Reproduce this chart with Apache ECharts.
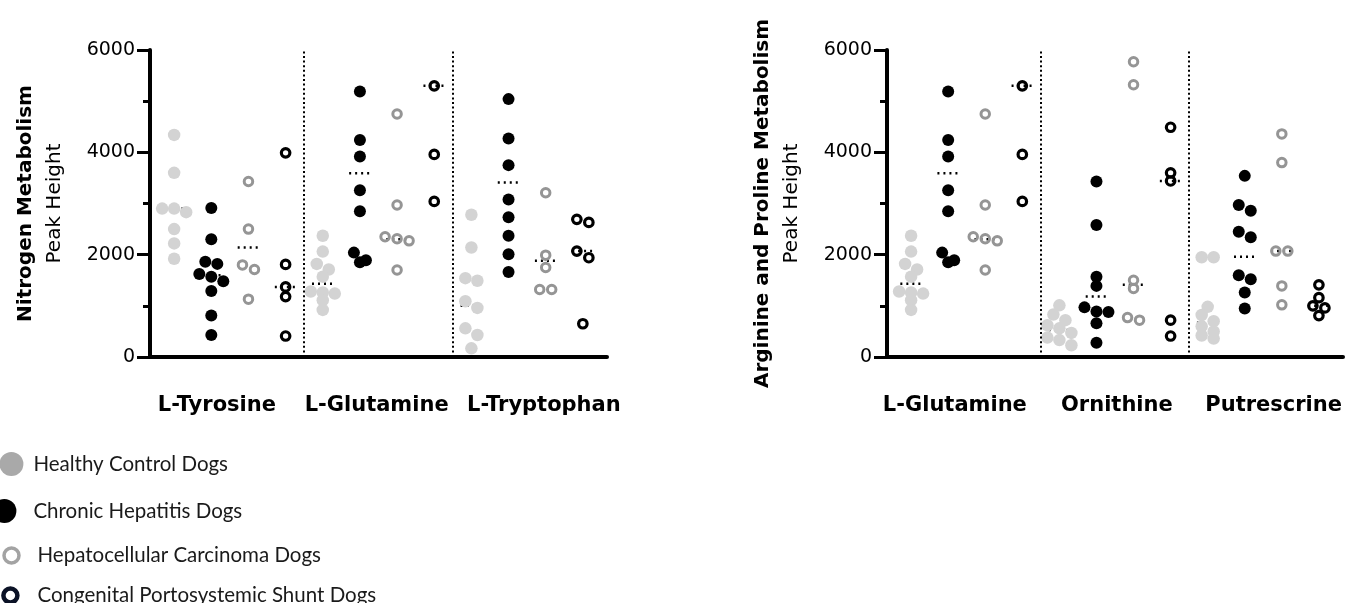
<!DOCTYPE html>
<html><head><meta charset="utf-8">
<script src="https://cdn.jsdelivr.net/npm/echarts@6/dist/echarts.min.js"></script>
<style>html,body{margin:0;padding:0;background:#fff}#c{width:1359px;height:603px}</style>
</head><body><div id="c"></div>
<script>
// ---------- data ----------
const groupNames = ['Healthy Control Dogs', 'Chronic Hepatitis Dogs', 'Hepatocellular Carcinoma Dogs', 'Congenital Portosystemic Shunt Dogs'];
const leftCategories = ['L-Tyrosine', 'L-Glutamine', 'L-Tryptophan'];
const rightCategories = ['L-Glutamine', 'Ornithine', 'Putrescrine'];
const leftTitle = 'Nitrogen Metabolism';
const rightTitle = 'Arginine and Proline Metabolism';
const yUnit = 'Peak Height';
const yTickValues = [0, 2000, 4000, 6000];

const tyrosineHealthy = [4340, 3600, 2900, 2900, 2830, 2500, 2220, 1920];
const tyrosineHepatitis = [2910, 2300, 1860, 1820, 1620, 1570, 1480, 1290, 810, 430];
const tyrosineCarcinoma = [3430, 2500, 1800, 1710, 1130];
const tyrosineShunt = [3990, 1810, 1370, 1180, 410];
const tyrosineMedians = [2900, 1600, 2140, 1370];

const glutamineHealthy = [2370, 2060, 1820, 1710, 1570, 1280, 1260, 1240, 1110, 920];
const glutamineHepatitis = [5190, 4240, 3920, 3260, 2850, 2040, 1890, 1850];
const glutamineCarcinoma = [4750, 2970, 2350, 2310, 2270, 1700];
const glutamineShunt = [5300, 3960, 3040];
const glutamineMedians = [1430, 3590, 2300, 5300];

const tryptophanHealthy = [2780, 2140, 1540, 1490, 1090, 960, 560, 430, 170];
const tryptophanHepatitis = [5040, 4270, 3750, 3080, 2730, 2370, 2010, 1660];
const tryptophanCarcinoma = [3210, 1990, 1750, 1320, 1320];
const tryptophanShunt = [2690, 2630, 2070, 1940, 650];
const tryptophanMedians = [1000, 3410, 1880, 2070];

const ornithineHealthy = [1010, 830, 720, 620, 560, 470, 380, 330, 230];
const ornithineHepatitis = [3430, 2580, 1570, 1390, 970, 890, 880, 660, 280];
const ornithineCarcinoma = [5770, 5320, 1500, 1340, 770, 720];
const ornithineShunt = [4490, 3600, 3440, 720, 410];
const ornithineMedians = [530, 1180, 1410, 3440];

const putrescineHealthy = [1950, 1950, 980, 820, 700, 600, 500, 420, 360];
const putrescineHepatitis = [3540, 2970, 2860, 2450, 2340, 1600, 1520, 1260, 950];
const putrescineCarcinoma = [4360, 3800, 2070, 2070, 1390, 1020];
const putrescineShunt = [1410, 1160, 1000, 960, 810];
const putrescineMedians = [670, 1960, 2070, 1000];

// ---------- layout ----------
const GRID_TOP = 50, GRID_H = 307;
const GRID_LEFT = [150, 887], GRID_W = [457, 456];
const X_MIN = -0.65, X_MAX = 11.65, Y_MAX = 6000;
const DOT = 12, ROW_TOL = 8;
const FONT = 'DejaVu Sans';

const panels = [
  { cats: leftCategories, title: leftTitle, labelAt: [1.15, 5.45, 9.95],
    values: [
      [tyrosineHealthy, tyrosineHepatitis, tyrosineCarcinoma, tyrosineShunt],
      [glutamineHealthy, glutamineHepatitis, glutamineCarcinoma, glutamineShunt],
      [tryptophanHealthy, tryptophanHepatitis, tryptophanCarcinoma, tryptophanShunt]],
    medians: [tyrosineMedians, glutamineMedians, tryptophanMedians] },
  { cats: rightCategories, title: rightTitle, labelAt: [1.18, 5.55, 9.78],
    values: [
      [glutamineHealthy, glutamineHepatitis, glutamineCarcinoma, glutamineShunt],
      [ornithineHealthy, ornithineHepatitis, ornithineCarcinoma, ornithineShunt],
      [putrescineHealthy, putrescineHepatitis, putrescineCarcinoma, putrescineShunt]],
    medians: [glutamineMedians, ornithineMedians, putrescineMedians] }
];

// simple row-based beeswarm: offsets computed in pixels, converted to axis units
function swarm(values, col, gridW) {
  const pxX = gridW / (X_MAX - X_MIN), pxY = GRID_H / Y_MAX;
  const sorted = values.slice().sort((a, b) => b - a);
  const out = []; let row = [];
  const flush = () => {
    row.forEach((v, i) => {
      const off = (i - (row.length - 1) / 2) * DOT;
      out.push([col + off / pxX, v]);
    });
    row = [];
  };
  sorted.forEach(v => {
    if (row.length && (row[0] - v) * pxY > ROW_TOL) flush();
    row.push(v);
  });
  flush();
  return out;
}

const groupStyles = [
  { symbolSize: 12.5, itemStyle: { color: '#d3d3d3', opacity: 1 } },
  { symbolSize: 12, itemStyle: { color: '#000000', opacity: 1 } },
  { symbolSize: 8.5, itemStyle: { color: 'rgba(0,0,0,0)', borderColor: '#959595', borderWidth: 3, opacity: 1 } },
  { symbolSize: 8.5, itemStyle: { color: 'rgba(0,0,0,0)', borderColor: '#000000', borderWidth: 3.2, opacity: 1 } }
];

const grids = [], xAxes = [], yAxes = [], series = [];
panels.forEach((p, c) => {
  grids.push({ left: GRID_LEFT[c], top: GRID_TOP, width: GRID_W[c], height: GRID_H });
  xAxes.push({
    type: 'value', gridIndex: c, min: X_MIN, max: X_MAX,
    axisLine: { show: true, onZero: false, lineStyle: { color: '#000', width: 4 } },
    axisTick: { show: false }, splitLine: { show: false },
    axisLabel: {
      customValues: p.labelAt, margin: 38,
      formatter: v => p.cats[Math.round((v - 1.5) / 4)],
      fontFamily: FONT, fontWeight: 'bold', fontSize: 21, color: '#000'
    }
  });
  yAxes.push({
    type: 'value', gridIndex: c, min: 0, max: Y_MAX, interval: 2000,
    axisLine: { show: true, onZero: false, lineStyle: { color: '#000', width: 4 } },
    axisTick: { show: true, length: 13, lineStyle: { color: '#000', width: 3 } },
    minorTick: { show: true, splitNumber: 2, length: 7, lineStyle: { color: '#000', width: 3 } },
    splitLine: { show: false }, minorSplitLine: { show: false },
    axisLabel: { margin: 15, fontFamily: FONT, fontSize: 19, color: '#000',
      formatter: v => yTickValues.includes(v) ? String(v) : '' },
    name: '{b|' + p.title + '}\n{r|' + yUnit + '}',
    nameLocation: 'middle', nameRotate: 90, nameGap: 81,
    nameTextStyle: { align: 'center', rich: {
      b: { fontFamily: FONT, fontWeight: 'bold', fontSize: 20, lineHeight: 29, color: '#000' },
      r: { fontFamily: FONT, fontSize: 20, lineHeight: 29, color: '#000' } } }
  });
  // median lines
  const medData = [];
  p.medians.forEach((arr, m) => arr.forEach((v, g) => medData.push([m * 4 + g, v])));
  series.push({
    type: 'custom', xAxisIndex: c, yAxisIndex: c, silent: true, z: 1,
    data: medData,
    renderItem: (params, api) => {
      const x = api.value(0), y = api.value(1);
      const a = api.coord([x - 0.29, y]), b = api.coord([x + 0.29, y]);
      return { type: 'line', shape: { x1: a[0], y1: a[1], x2: b[0], y2: b[1] },
        style: { stroke: '#000', lineWidth: 2.5, lineDash: [2, 4] } };
    }
  });
  groupNames.forEach((name, g) => {
    let data = [];
    p.values.forEach((grp, m) => { data = data.concat(swarm(grp[g], m * 4 + g, GRID_W[c])); });
    const s = Object.assign({
      type: 'scatter', name, xAxisIndex: c, yAxisIndex: c, symbol: 'circle', data, z: 3,
      emphasis: { disabled: true }
    }, groupStyles[g]);
    if (g === 0) {
      s.markLine = { silent: true, symbol: 'none', label: { show: false },
        lineStyle: { color: '#000', width: 2, type: [2, 2.6] },
        data: [{ xAxis: 3.5 }, { xAxis: 7.5 }] };
    }
    series.push(s);
  });
});

// legend: the icon is drawn at 0.8 of itemHeight, centred in a box of width itemWidth;
// text starts 5px after the box; the component is placed by the visible icon's left edge
const LEGEND_ICON_SCALE = 0.8, LEGEND_NUDGE = -2;
const legendSpecs = [
  { size: 24, border: 0, cx: 11, cy: 462, textX: 33, style: { color: '#a9a9a9', opacity: 1 } },
  { size: 24, border: 0, cx: 4, cy: 509, textX: 33, style: { color: '#000', opacity: 1 } },
  { size: 15, border: 3.5, cx: 12, cy: 555, textX: 38, style: { color: '#fff', borderColor: '#a3a3a3', borderWidth: 3.5, opacity: 1 } },
  { size: 14, border: 4.5, cx: 11, cy: 595, textX: 38, style: { color: '#fff', borderColor: '#0b1226', borderWidth: 4.5, opacity: 1 } }
];
const legends = legendSpecs.map((L, i) => {
  const w = 2 * (L.textX - 5 - L.cx);
  return {
    orient: 'vertical', left: L.cx - L.size * LEGEND_ICON_SCALE / 2 - L.border / 2 + LEGEND_NUDGE,
    top: L.cy - Math.max(L.size * LEGEND_ICON_SCALE, 20) / 2, padding: 0,
    itemWidth: w, itemHeight: L.size, itemGap: 0,
    selectedMode: false,
    textStyle: { fontFamily: 'Lato', fontSize: 20.5, color: '#1a1a1a' },
    data: [{ name: groupNames[i], icon: 'circle', itemStyle: L.style }]
  };
});

const chart = echarts.init(document.getElementById('c'), null, { renderer: 'canvas' });
chart.setOption({
  animation: false, backgroundColor: '#fff',
  textStyle: { fontFamily: FONT },
  grid: grids, xAxis: xAxes, yAxis: yAxes, legend: legends, series
});
</script></body></html>
